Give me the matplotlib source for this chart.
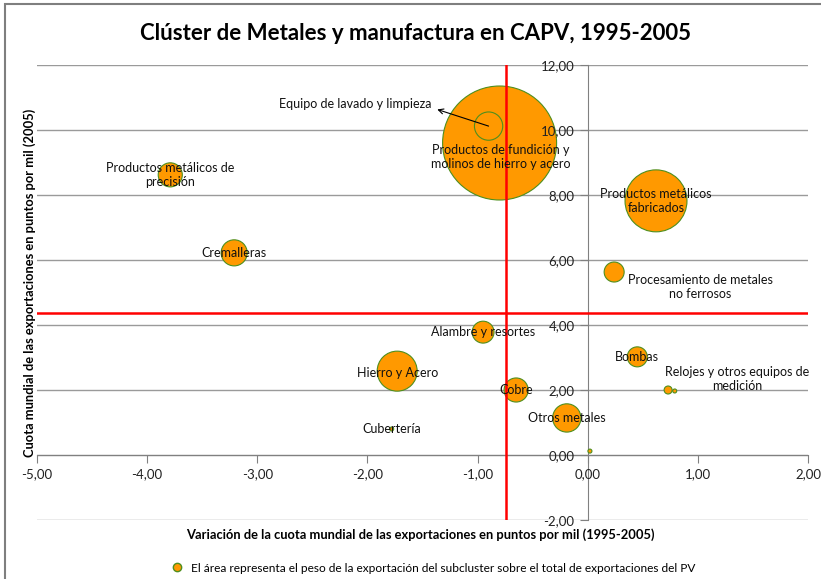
import matplotlib
matplotlib.use("Agg")
import matplotlib.pyplot as plt
from matplotlib.lines import Line2D
from matplotlib.patches import Rectangle
from matplotlib.ticker import FuncFormatter, MultipleLocator

plt.rcParams["font.family"] = ["Lato", "DejaVu Sans"]

# subclusters: variation of world share (x), world share 2005 (y), weight (bubble area)
names = [
    "Productos de fundición y\nmolinos de hierro y acero",
    "Productos metálicos\nfabricados",
    "Hierro y Acero",
    "Equipo de lavado y limpieza",
    "Otros metales",
    "Cremalleras",
    "Productos metálicos de\nprecisión",
    "Cobre",
    "Alambre y resortes",
    "Procesamiento de metales\nno ferrosos",
    "Bombas",
    "Relojes y otros equipos de\nmedición",
    "",
    "Cubertería",
    "",
]
var_cuota = [-0.80, 0.62, -1.73, -0.90, -0.19, -3.21, -3.79, -0.65, -0.95, 0.24, 0.45, 0.73, 0.79, -1.78, 0.02]
cuota_2005 = [9.60, 7.82, 2.58, 10.12, 1.14, 6.22, 8.62, 2.00, 3.78, 5.63, 3.02, 2.00, 1.97, 0.80, 0.12]
peso = [32.5, 9.6, 4.0, 2.0, 2.0, 1.7, 1.45, 1.45, 1.2, 1.0, 1.0, 0.16, 0.04, 0.04, 0.04]

media_x = -0.74
media_y = 4.37

# label offsets in pixels (dx, dy) from bubble centre
offsets = {
    0: (1, -14),
    3: (-133, 22),
    9: (86, -15),
    11: (69, 11),
    2: (0, -2),
}

orange = "#FF9900"
green = "#4E8F1E"

fig = plt.figure(figsize=(8.21, 5.79), dpi=100)
ax = fig.add_axes([37 / 821, 1 - 520 / 579, (808 - 37) / 821, (520 - 65) / 579])

ax.set_xlim(-5, 2)
ax.set_ylim(-2, 12)

ax.yaxis.set_major_locator(MultipleLocator(2))
ax.xaxis.set_major_locator(MultipleLocator(1))
for yv in range(-2, 13, 2):
    ax.axhline(yv, color="#9a9a9a", linewidth=1, zorder=0.5)
ax.set_axisbelow(False)

for s in ["top", "right"]:
    ax.spines[s].set_visible(False)
ax.spines["left"].set_position(("data", 0))
ax.spines["bottom"].set_position(("data", 0))
ax.spines["left"].set_color("#808080")
ax.spines["bottom"].set_color("#808080")
ax.spines["left"].set_zorder(1)
ax.spines["bottom"].set_zorder(1)
ax.tick_params(direction="out", length=6, color="#808080", labelsize=9.5, colors="#222222")
ax.tick_params(colors="#808080", labelcolor="#222222")

fmt = FuncFormatter(lambda v, p: f"{v:.2f}".replace(".", ","))
ax.xaxis.set_major_formatter(fmt)
ax.yaxis.set_major_formatter(fmt)

sizes = [w * 207.3 for w in peso]
ax.scatter(var_cuota, cuota_2005, s=sizes, c=orange, edgecolors=green, linewidths=0.8, zorder=2)

ax.axvline(media_x, color="red", linewidth=1.8, zorder=2.2)
ax.axhline(media_y, color="red", linewidth=1.8, zorder=2.2)

for i, name in enumerate(names):
    if not name:
        continue
    dx, dy = offsets.get(i, (0, 0))
    if i == 3:
        ax.annotate(name, xy=(var_cuota[i], cuota_2005[i]),
                    xytext=(dx * 0.72, dy * 0.72), textcoords="offset points",
                    ha="center", va="center", fontsize=9, color="#111111", zorder=6,
                    arrowprops=dict(arrowstyle="<-", color="black", lw=0.8,
                                    shrinkA=2, shrinkB=0, relpos=(1.0, 0.2)))
    else:
        ax.annotate(name, xy=(var_cuota[i], cuota_2005[i]),
                    xytext=(dx * 0.72, dy * 0.72), textcoords="offset points",
                    ha="center", va="center", fontsize=9, color="#111111", zorder=6,
                    linespacing=1.2)

fig.text(415 / 821, 1 - 33 / 579, "Clúster de Metales y manufactura en CAPV, 1995-2005",
         ha="center", va="center", fontsize=16, fontweight="bold")
fig.text(420 / 821, 1 - 535 / 579,
         "Variación de la cuota mundial de las exportaciones en puntos por mil (1995-2005)",
         ha="center", va="center", fontsize=9.3, fontweight="bold")
fig.text(30 / 821, 1 - 283 / 579,
         "Cuota mundial de las exportaciones en puntos por mil (2005)",
         ha="center", va="center", rotation=90, fontsize=9.3, fontweight="bold")

handle = Line2D([], [], marker="o", linestyle="none", markersize=6,
                markerfacecolor=orange, markeredgecolor=green)
fig.legend([handle],
           ["El área representa el peso de la exportación del subcluster sobre el total de exportaciones del PV"],
           loc="center", bbox_to_anchor=(430 / 821, 1 - 568 / 579), frameon=False,
           fontsize=8.6, handletextpad=0.2, borderpad=0)

fig.patches.append(Rectangle((5 / 821, -0.1), 1.2, 1 - 4 / 579 + 0.1, transform=fig.transFigure,
                             fill=False, edgecolor="#7f7f7f", linewidth=1.5))

fig.savefig("out.png", dpi=100)
